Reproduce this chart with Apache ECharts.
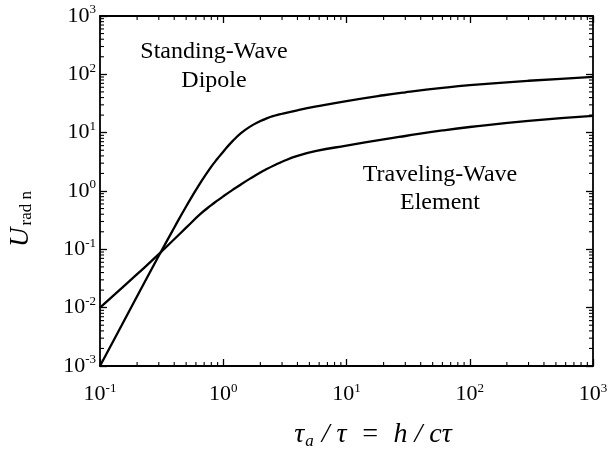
<!DOCTYPE html>
<html>
<head>
<meta charset="utf-8">
<script src="https://cdn.jsdelivr.net/npm/echarts@6/dist/echarts.min.js"></script>
<style>html,body{margin:0;padding:0;background:#fff;}#c{width:611px;height:451px;}</style>
</head>
<body>
<div id="c"></div>
<script>
// ---- data ----
const xValues = [0.1, 0.15, 0.2, 0.3, 0.4, 0.5, 0.65, 0.8, 0.9, 1.0, 1.2, 1.4, 1.65, 2.0, 2.25, 2.6, 3.0, 4.0, 5.7, 10, 20, 30, 60, 100, 300, 1000];
const standingWave = [0.001, 0.005, 0.0157, 0.0776, 0.235, 0.543, 1.36, 2.61, 3.6, 4.73, 7.3, 9.9, 12.7, 15.8, 17.6, 19.5, 21.1, 24.2, 28.1, 34.8, 43.8, 49.2, 58.5, 65.1, 77.6, 90.8];
const travelingWave = [0.01, 0.0216, 0.0375, 0.0826, 0.149, 0.235, 0.40, 0.573, 0.69, 0.81, 1.056, 1.31, 1.63, 2.08, 2.38, 2.77, 3.18, 4.0, 4.86, 6.0, 7.68, 8.77, 10.9, 12.5, 15.96, 19.4];
const xDecades = [0.1, 1, 10, 100];
const yDecades = [0.001, 0.01, 0.1, 1, 10, 100];
const minorMultipliers = [2, 3, 4, 5, 6, 7, 8, 9];
const xMin = 0.1, xMax = 1000, yMin = 0.001, yMax = 1000;

const FONT = '"Liberation Serif", "DejaVu Serif", serif';
const minorX = [];
xDecades.forEach(d => minorMultipliers.forEach(m => minorX.push([m * d, yMin])));
const minorY = [];
yDecades.forEach(d => minorMultipliers.forEach(m => minorY.push([xMin, m * d])));

function supLabel(v) {
  const e = Math.round(Math.log10(v));
  return '{b|10}{s|' + e + '}';
}
const labelRich = {
  b: { fontSize: 22, fontFamily: FONT, color: '#000', lineHeight: 25 },
  s: { fontSize: 13, fontFamily: FONT, color: '#000', verticalAlign: 'top', lineHeight: 13 }
};

const axisLine = { show: true, lineStyle: { color: '#000', width: 1.8 } };
const majorTick = { show: true, inside: true, length: 7, lineStyle: { color: '#000', width: 1.3 } };

function pair(a, b) { return [a, b]; }

function tickRenderer(dir) {
  return function (params, api) {
    const v = api.value(dir === 'x' ? 0 : 1);
    const len = 4;
    const style = { stroke: '#000', lineWidth: 1.1 };
    if (dir === 'x') {
      const p1 = api.coord([v, yMin]);
      const p2 = api.coord([v, yMax]);
      return { type: 'group', children: [
        { type: 'line', shape: { x1: p1[0], y1: p1[1], x2: p1[0], y2: p1[1] - len }, style },
        { type: 'line', shape: { x1: p2[0], y1: p2[1], x2: p2[0], y2: p2[1] + len }, style }
      ]};
    } else {
      const p1 = api.coord([xMin, v]);
      const p2 = api.coord([xMax, v]);
      return { type: 'group', children: [
        { type: 'line', shape: { x1: p1[0], y1: p1[1], x2: p1[0] + len, y2: p1[1] }, style },
        { type: 'line', shape: { x1: p2[0], y1: p2[1], x2: p2[0] - len, y2: p2[1] }, style }
      ]};
    }
  };
}

const chart = echarts.init(document.getElementById('c'), null, { renderer: 'canvas' });
chart.setOption({
  backgroundColor: '#fff',
  animation: false,
  grid: { left: 100, right: 18, top: 16, bottom: 85, containLabel: false },
  xAxis: [
    { type: 'log', logBase: 10, min: xMin, max: xMax, interval: 1, position: 'bottom',
      axisLine, axisTick: majorTick, splitLine: { show: false },
      axisLabel: { margin: 16, formatter: supLabel, rich: labelRich } },
    { type: 'log', logBase: 10, min: xMin, max: xMax, interval: 1, position: 'top',
      axisLine, axisTick: majorTick, splitLine: { show: false }, axisLabel: { show: false } }
  ],
  yAxis: [
    { type: 'log', logBase: 10, min: yMin, max: yMax, interval: 1, position: 'left',
      axisLine, axisTick: majorTick, splitLine: { show: false },
      axisLabel: { margin: 4, formatter: supLabel, rich: labelRich } },
    { type: 'log', logBase: 10, min: yMin, max: yMax, interval: 1, position: 'right',
      axisLine, axisTick: majorTick, splitLine: { show: false }, axisLabel: { show: false } }
  ],
  series: [
    { type: 'line', name: 'Standing-Wave Dipole', data: xValues.map((x, i) => pair(x, standingWave[i])),
      showSymbol: false, smooth: 0.5, lineStyle: { color: '#000', width: 2.3 }, silent: true },
    { type: 'line', name: 'Traveling-Wave Element', data: xValues.map((x, i) => pair(x, travelingWave[i])),
      showSymbol: false, smooth: 0.5, lineStyle: { color: '#000', width: 2.3 }, silent: true },
    { type: 'custom', data: minorX, renderItem: tickRenderer('x'), silent: true, clip: false },
    { type: 'custom', data: minorY, renderItem: tickRenderer('y'), silent: true, clip: false }
  ],
  graphic: [
    { type: 'text', x: 214, y: 37, style: { text: 'Standing-Wave\nDipole', fontSize: 24, fontFamily: FONT,
      fill: '#000', textAlign: 'center', textVerticalAlign: 'top', lineHeight: 29 } },
    { type: 'text', x: 440, y: 161, style: { text: 'Traveling-Wave\nElement', fontSize: 24, fontFamily: FONT,
      fill: '#000', textAlign: 'center', textVerticalAlign: 'top', lineHeight: 28 } },
    { type: 'text', x: 373, y: 435, style: {
      text: '{i|τ}{sub|a}{i| / τ  =  h / cτ}', textAlign: 'center', textVerticalAlign: 'middle',
      rich: {
        i: { fontSize: 28, fontStyle: 'italic', fontFamily: FONT, fill: '#000', lineHeight: 30 },
        sub: { fontSize: 17, fontStyle: 'italic', fontFamily: FONT, fill: '#000', verticalAlign: 'bottom', lineHeight: 17, padding: [0, 1, 0, 1] }
      } } },
    { type: 'text', x: 21, y: 219, rotation: Math.PI / 2, style: {
      text: '{u|U}{sub|rad n}', textAlign: 'center', textVerticalAlign: 'middle',
      rich: {
        u: { fontSize: 27, fontStyle: 'italic', fontFamily: FONT, fill: '#000', lineHeight: 28 },
        sub: { fontSize: 17, fontFamily: FONT, fill: '#000', verticalAlign: 'bottom', lineHeight: 17, padding: [0, 0, 0, 2] }
      } } }
  ]
});
</script>
</body>
</html>
